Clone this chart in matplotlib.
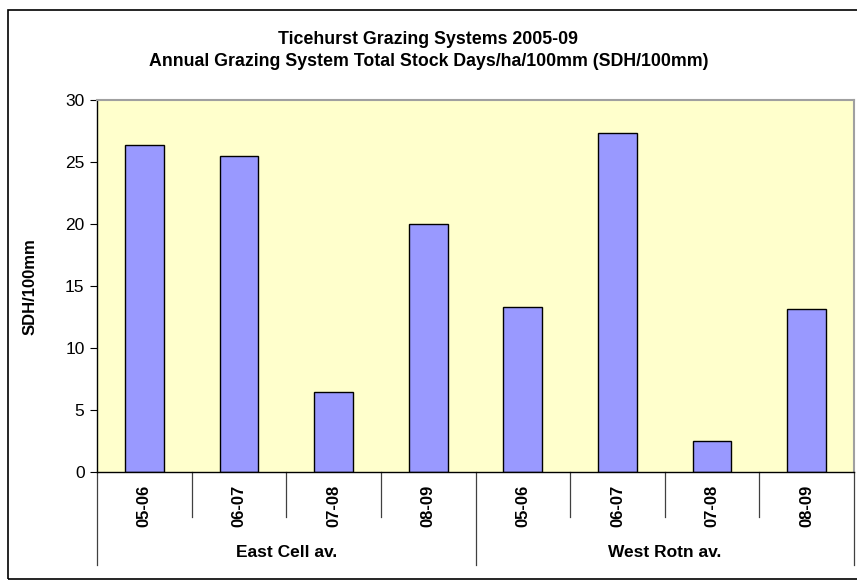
import matplotlib.pyplot as plt
from matplotlib.patches import Rectangle

plt.rcParams['font.family'] = ['Liberation Sans', 'DejaVu Sans']

years = ['05-06', '06-07', '07-08', '08-09']
groups = ['East Cell av.', 'West Rotn av.']
east_vals = [26.35, 25.45, 6.5, 20.0]
west_vals = [13.3, 27.35, 2.55, 13.15]

labels = years + years
values = east_vals + west_vals
x = list(range(len(values)))

fig = plt.figure(figsize=(8.57, 5.81), dpi=100)
ax = fig.add_axes([0.1132, 0.1868, 0.8833, 0.6411])

ax.set_facecolor('#FFFFCC')
ax.bar(x, values, width=0.41, color='#9999FF', edgecolor='black', linewidth=1)

ax.set_xlim(-0.5, len(values) - 0.5)
ax.set_ylim(0, 30)
ax.set_yticks([0, 5, 10, 15, 20, 25, 30])
ax.tick_params(axis='y', direction='out', length=5, labelsize=12.5, width=0.8, pad=4)
ax.set_xticks([])

for side in ['top', 'right']:
    ax.spines[side].set_color('#A0A0A0')
    ax.spines[side].set_linewidth(1.5)
for side in ['left', 'bottom']:
    ax.spines[side].set_color('black')
    ax.spines[side].set_linewidth(1)

ax.set_ylabel('SDH/100mm', fontsize=12, fontweight='bold', labelpad=20)

# two-level category axis
trans = ax.get_xaxis_transform()
for i in range(len(values) + 1):
    b = i - 0.5
    if i % 4 == 0:
        y_end = -0.249
    else:
        y_end = -0.12
    ax.plot([b, b], [0, y_end], color='#404040', lw=0.9, transform=trans, clip_on=False)

for xi, lab in zip(x, labels):
    ax.text(xi, -0.09, lab, rotation=90, ha='center', va='center',
            fontsize=12, fontweight='bold', transform=trans)

for gi, g in enumerate(groups):
    ax.text(gi * 4 + 1.5, -0.216, g, ha='center', va='center',
            fontsize=12.5, fontweight='bold', transform=trans)

fig.text(0.5, 1 - 40 / 581, 'Ticehurst Grazing Systems 2005-09', ha='center', va='center',
         fontsize=12.8, fontweight='bold')
fig.text(0.5, 1 - 62 / 581, 'Annual Grazing System Total Stock Days/ha/100mm (SDH/100mm)',
         ha='center', va='center', fontsize=12.8, fontweight='bold')

# outer chart border
fig.patches.append(Rectangle((8 / 857, 2 / 581), 850 / 857, 569 / 581, transform=fig.transFigure,
                             fill=False, edgecolor='black', linewidth=1.2))

fig.savefig('out.png', dpi=100)
